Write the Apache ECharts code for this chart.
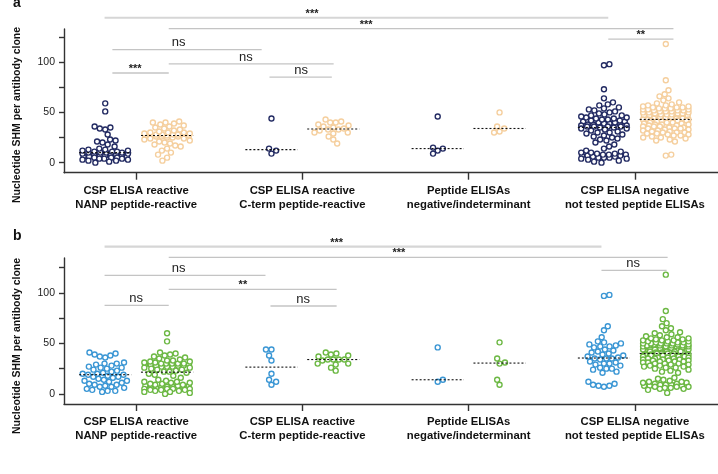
<!DOCTYPE html>
<html><head><meta charset="utf-8">
<script src="https://cdn.jsdelivr.net/npm/echarts@6/dist/echarts.min.js"></script>
<style>html,body{margin:0;padding:0;background:#fff}#c{width:718px;height:474px}</style>
</head><body><div id="c"></div>
<script>
// ---- categories & ticks ----
const categories = ['CSP ELISA reactive\nNANP peptide-reactive', 'CSP ELISA reactive\nC-term peptide-reactive', 'Peptide ELISAs\nnegative/indeterminant', 'CSP ELISA negative\nnot tested peptide ELISAs'];
const yTickValues = [0, 25, 50, 75, 100, 125];
const yLabelValues = [0, 50, 100];
const yAxisTitle = 'Nucleotide SHM per antibody clone';
const panelLabels = ['a', 'b'];

// ---- panel a (navy / peach) ----
const aNavy1 = [59, 51, 36, 35, 34, 33, 28, 23, 22, 21, 20, 18, 16, 14, 13, 13, 12, 12, 11, 11, 11, 10, 10, 10, 10, 9, 9, 8, 8, 8, 7, 7, 7, 6, 6, 6, 5, 5, 5, 4, 4, 4, 3, 3, 2, 2, 1, 0];
const aPeach1 = [41, 40, 40, 39, 38, 37, 36, 35, 34, 33, 32, 31, 30, 30, 30, 29, 29, 28, 28, 28, 28, 27, 27, 27, 27, 27, 26, 26, 26, 25, 25, 24, 24, 23, 22, 21, 20, 19, 18, 17, 16, 14, 12, 10, 8, 5, 2];
const aNavy2 = [44, 14, 12, 9];
const aPeach2 = [43, 41, 40, 40, 38, 37, 36, 35, 34, 33, 33, 32, 30, 30, 29, 26, 23, 19];
const aNavy3 = [46, 15, 14, 12, 9];
const aPeach3 = [50, 36, 34, 31, 30];
const aNavy4 = [98, 97, 73, 64, 60, 58, 57, 55, 54, 53, 52, 51, 50, 49, 48, 47, 47, 46, 45, 45, 44, 44, 43, 43, 42, 42, 41, 41, 40, 40, 39, 39, 38, 38, 38, 37, 37, 36, 36, 36, 36, 35, 35, 34, 34, 33, 32, 31, 30, 30, 29, 28, 27, 26, 25, 24, 23, 22, 20, 18, 16, 14, 12, 11, 10, 10, 9, 9, 8, 8, 8, 7, 7, 7, 6, 6, 5, 5, 5, 4, 4, 3, 2, 1, 0];
const aPeach4 = [118, 82, 72, 68, 66, 64, 62, 60, 59, 58, 57, 57, 56, 56, 55, 55, 55, 54, 54, 54, 53, 53, 53, 52, 52, 52, 51, 51, 51, 50, 50, 50, 49, 49, 49, 48, 48, 48, 47, 47, 47, 46, 46, 46, 45, 45, 45, 44, 44, 44, 43, 43, 43, 42, 42, 42, 41, 41, 41, 40, 40, 40, 39, 39, 38, 38, 38, 37, 37, 36, 36, 36, 35, 35, 34, 34, 34, 33, 33, 32, 32, 31, 31, 30, 30, 30, 29, 29, 28, 28, 27, 27, 26, 25, 25, 24, 23, 22, 21, 8, 7];

// ---- panel b (blue / green) ----
const bBlue1 = [41, 40, 39, 38, 37, 36, 31, 30, 30, 29, 28, 27, 26, 26, 25, 24, 23, 22, 21, 20, 20, 19, 19, 18, 17, 17, 16, 15, 14, 13, 13, 12, 11, 10, 9, 9, 8, 7, 7, 6, 5, 4, 3, 3, 2];
const bGreen1 = [60, 52, 41, 40, 39, 38, 37, 36, 35, 34, 33, 33, 32, 32, 31, 31, 30, 30, 30, 30, 30, 29, 29, 29, 28, 28, 28, 27, 27, 27, 26, 26, 25, 24, 24, 23, 22, 22, 21, 20, 19, 18, 16, 14, 13, 12, 12, 11, 11, 10, 10, 9, 9, 8, 8, 8, 7, 7, 7, 6, 6, 6, 6, 5, 5, 5, 5, 4, 4, 4, 3, 3, 2, 2, 1, 0];
const bBlue2 = [44, 44, 38, 33, 20, 14, 12, 9];
const bGreen2 = [41, 40, 39, 38, 37, 34, 34, 34, 34, 33, 30, 30, 29, 26, 23];
const bBlue3 = [46, 14, 12];
const bGreen3 = [51, 35, 31, 30, 14, 9];
const bBlue4 = [98, 97, 67, 63, 56, 52, 51, 50, 49, 48, 47, 47, 46, 44, 43, 42, 41, 40, 39, 38, 37, 36, 35, 35, 35, 34, 32, 31, 30, 30, 29, 28, 26, 25, 25, 24, 22, 21, 12, 10, 9, 8, 8, 7];
const bGreen4 = [118, 82, 74, 70, 67, 65, 63, 61, 60, 59, 58, 57, 56, 56, 55, 55, 54, 54, 53, 53, 53, 52, 52, 52, 51, 51, 51, 50, 50, 50, 50, 50, 49, 49, 49, 48, 48, 48, 48, 47, 47, 47, 46, 46, 46, 46, 45, 45, 45, 44, 44, 44, 44, 43, 43, 43, 42, 42, 42, 42, 41, 41, 41, 41, 40, 40, 40, 40, 39, 39, 39, 38, 38, 38, 37, 37, 37, 36, 36, 36, 35, 35, 35, 34, 34, 34, 33, 33, 33, 32, 32, 32, 31, 31, 30, 30, 30, 29, 29, 28, 28, 27, 27, 26, 26, 25, 24, 23, 22, 21, 16, 15, 14, 13, 12, 12, 11, 11, 10, 10, 9, 9, 9, 8, 8, 8, 7, 7, 7, 6, 6, 5, 5, 4, 1];

// ---- significance annotations: [x1, x2, y (data units), labelX, text] ----
const bracketsA = [
  [0.810, 3.840, 144.2, 2.058, '***'],
  [1.196, 4.232, 133.3, 2.384, '***'],
  [0.857, 1.755, 112.4, 1.255, 'ns'],
  [1.196, 2.188, 98.2, 1.660, 'ns'],
  [0.857, 1.196, 89.2, 0.994, '***'],
  [1.802, 2.177, 85.2, 1.992, 'ns'],
  [3.840, 4.232, 123.0, 4.036, '**']
];
const bracketsB = [
  [0.810, 3.799, 145.7, 2.206, '***'],
  [1.196, 4.197, 135.2, 2.581, '***'],
  [0.810, 1.778, 117.4, 1.255, 'ns'],
  [1.196, 2.206, 103.5, 1.642, '**'],
  [0.810, 1.196, 87.7, 1.000, 'ns'],
  [1.808, 2.206, 87.0, 2.004, 'ns'],
  [3.799, 4.191, 122.3, 3.989, 'ns']
];

const panels = [
  {groups: [[aNavy1, aPeach1], [aNavy2, aPeach2], [aNavy3, aPeach3], [aNavy4, aPeach4]], colors: ['#222a62', '#f5cf9e'], top: 29, height: 143.7, ymax: 133, brackets: bracketsA, labelY: 10.5, titleY: 115},
  {groups: [[bBlue1, bGreen1], [bBlue2, bGreen2], [bBlue3, bGreen3], [bBlue4, bGreen4]], colors: ['#3a96d4', '#6cb843'], top: 258, height: 146, ymax: 134.5, brackets: bracketsB, labelY: 243, titleY: 346}
];

const XMIN = 0.566, XMAX = 4.5, GRID_LEFT = 64, GRID_W = 662;
const SUB_OFF = 0.186, MED_HALF = 0.157;
const FONT = '"Liberation Sans", Arial, Helvetica, sans-serif';
const pxPerX = GRID_W / (XMAX - XMIN);
const D = 5.6, MAX_HALF = 23;

function median(arr) {
  const s = arr.slice().sort((a, b) => a - b);
  const n = s.length;
  return n % 2 ? s[(n - 1) / 2] : (s[n / 2 - 1] + s[n / 2]) / 2;
}

// beeswarm layout with a maximum spread (points overlap when a row is full)
function swarm(values, pxPerY) {
  const pts = values.map(v => ({v, py: v * pxPerY}));
  pts.forEach(p => { p.dens = pts.filter(q => Math.abs(q.py - p.py) < D).length; });
  pts.sort((a, b) => (b.dens - a.dens) || (a.v - b.v));
  const placed = [];
  const out = [];
  let flip = 1;
  for (const p of pts) {
    const iv = [];
    const near = [];
    for (const q of placed) {
      const dy = Math.abs(q.y - p.py);
      if (dy < D) { const w = Math.sqrt(D * D - dy * dy); iv.push([q.x - w, q.x + w]); near.push(q); }
    }
    const cands = [0];
    iv.forEach(([a, b]) => cands.push(a, b));
    cands.sort((a, b) => (Math.abs(a) - Math.abs(b)) || flip * (a - b));
    let best = null;
    for (const c of cands) {
      if (Math.abs(c) > MAX_HALF) break;
      if (iv.every(([a, b]) => c <= a + 1e-6 || c >= b - 1e-6)) { best = c; break; }
    }
    if (best === null) {
      let bestCost = Infinity;
      for (let k = 0; k <= 2 * MAX_HALF; k += 0.5) {
        const c = (k % 1 === 0 ? 1 : -1) * flip * Math.ceil(k / 2) * 1;
        const x = Math.max(-MAX_HALF, Math.min(MAX_HALF, c));
        let cost = 0;
        for (const q of near) {
          const d = Math.hypot(q.x - x, q.y - p.py);
          if (d < D) cost += (D - d);
        }
        if (cost < bestCost - 1e-9) { bestCost = cost; best = x; }
      }
    }
    placed.push({x: best, y: p.py});
    out.push([best / pxPerX, p.v]);
    flip = -flip;
  }
  return out;
}

const grids = [], xAxes = [], yAxes = [], series = [];
panels.forEach((p, g) => {
  grids.push({left: GRID_LEFT, top: p.top, width: GRID_W, height: p.height});
  const axisLineStyle = {color: '#333', width: 1.4};
  xAxes.push({
    gridIndex: g, type: 'value', min: XMIN, max: XMAX,
    axisLine: {show: true, onZero: false, lineStyle: axisLineStyle},
    axisTick: {show: true, customValues: [1, 2, 3, 4], length: 7, lineStyle: axisLineStyle},
    axisLabel: {customValues: [1, 2, 3, 4], formatter: v => categories[Math.round(v) - 1], fontFamily: FONT, fontWeight: 'bold', fontSize: 11.3, lineHeight: 14, color: '#111', margin: 11},
    splitLine: {show: false}
  });
  yAxes.push({
    gridIndex: g, type: 'value', min: -10, max: p.ymax,
    axisLine: {show: true, onZero: false, lineStyle: axisLineStyle},
    axisTick: {show: true, customValues: yTickValues, length: 5, lineStyle: axisLineStyle},
    axisLabel: {customValues: yLabelValues, fontFamily: FONT, fontSize: 10.5, color: '#222', margin: 9},
    splitLine: {show: false}
  });
  const pxPerY = p.height / (p.ymax + 10);
  p.groups.forEach((pair, ci) => {
    pair.forEach((vals, si) => {
      const cx = ci + 1 + (si === 0 ? -SUB_OFF : SUB_OFF);
      const pts = swarm(vals, pxPerY).map(([dx, v]) => [cx + dx, v]);
      series.push({
        type: 'scatter', xAxisIndex: g, yAxisIndex: g, data: pts,
        symbol: 'circle', symbolSize: 5,
        itemStyle: {color: '#fff', borderColor: p.colors[si], borderWidth: 1.4, opacity: 1},
        emphasis: {disabled: true}, silent: true, z: 2
      });
      const m = median(vals);
      series.push({
        type: 'line', xAxisIndex: g, yAxisIndex: g, data: [[cx - MED_HALF, m], [cx + MED_HALF, m]],
        symbol: 'none', lineStyle: {color: '#111', width: 1.1, type: [2, 2]}, silent: true, z: 5
      });
    });
  });
});

const chart = echarts.init(document.getElementById('c'), null, {renderer: 'canvas'});
chart.setOption({
  animation: false, backgroundColor: '#fff',
  grid: grids, xAxis: xAxes, yAxis: yAxes, series: series
});

const graphics = [];
panels.forEach((p, g) => {
  graphics.push({type: 'text', x: 13, y: p.labelY, style: {text: panelLabels[g], font: 'bold 14px ' + FONT, fill: '#111', textAlign: 'left', textVerticalAlign: 'bottom'}});
  graphics.push({type: 'text', x: 17.5, y: p.titleY, rotation: Math.PI / 2, style: {text: yAxisTitle, font: 'bold 10.5px ' + FONT, fill: '#111', textAlign: 'center', textVerticalAlign: 'middle'}});
  p.brackets.forEach(([x1, x2, y, lx, t], i) => {
    const a = chart.convertToPixel({gridIndex: g}, [x1, y]);
    const b = chart.convertToPixel({gridIndex: g}, [x2, y]);
    const l = chart.convertToPixel({gridIndex: g}, [lx, y]);
    const top = i === 0;
    graphics.push({type: 'line', shape: {x1: a[0], y1: a[1], x2: b[0], y2: b[1]}, style: {stroke: top ? '#d6d6d6' : '#c4c4c4', lineWidth: top ? 2.2 : 1.3}, silent: true});
    const isNs = t === 'ns';
    graphics.push({type: 'text', x: l[0], y: l[1] - (isNs ? 7 : 4), style: {text: t, font: (isNs ? '13px ' : 'bold 11px ') + FONT, fill: '#222', textAlign: 'center', textVerticalAlign: 'middle'}, silent: true});
  });
});
chart.setOption({graphic: graphics});
</script>
</body></html>
